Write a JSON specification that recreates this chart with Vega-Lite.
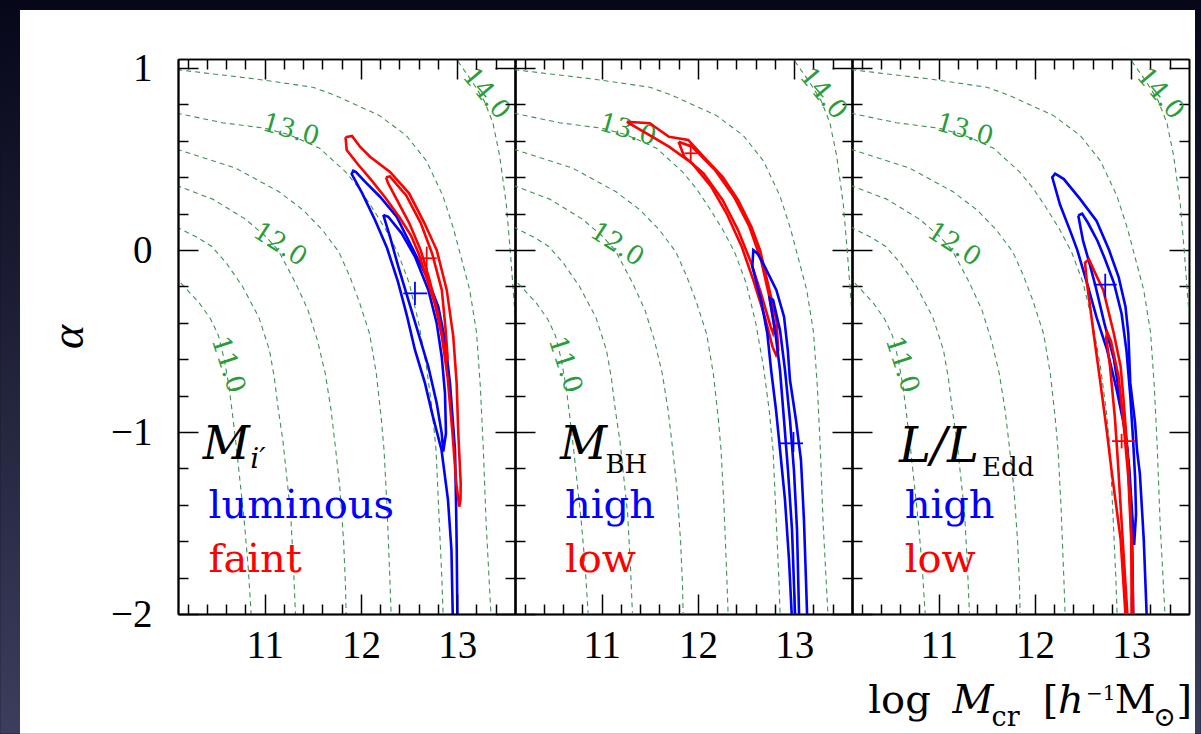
{
  "$schema": "https://vega.github.io/schema/vega-lite/v6.json",
  "background": "#0a0a1c",
  "padding": 0,
  "bounds": "flush",
  "spacing": 0,
  "datasets": {
    "curves": [
      {"lv":"11.0","i":0,"x":10.0,"a":-0.11},{"lv":"11.0","i":1,"x":10.145,"a":-0.19},{"lv":"11.0","i":2,"x":10.32,"a":-0.29},{"lv":"11.0","i":3,"x":10.44,"a":-0.38},{"lv":"11.0","i":4,"x":10.52,"a":-0.47},{"lv":"11.0","i":5,"x":10.58,"a":-0.6},{"lv":"11.0","i":6,"x":10.63,"a":-0.75},{"lv":"11.0","i":7,"x":10.67,"a":-0.92},{"lv":"11.0","i":8,"x":10.71,"a":-1.1},{"lv":"11.0","i":9,"x":10.75,"a":-1.3},{"lv":"11.0","i":10,"x":10.79,"a":-1.5},{"lv":"11.0","i":11,"x":10.83,"a":-1.75},{"lv":"11.0","i":12,"x":10.86,"a":-2.0},{"lv":"11.0","i":13,"x":10.87,"a":-2.1},
      {"lv":"11.5","i":0,"x":10.0,"a":0.15},{"lv":"11.5","i":1,"x":10.11,"a":0.12},{"lv":"11.5","i":2,"x":10.3,"a":0.07},{"lv":"11.5","i":3,"x":10.45,"a":0.02},{"lv":"11.5","i":4,"x":10.6,"a":-0.07},{"lv":"11.5","i":5,"x":10.77,"a":-0.2},{"lv":"11.5","i":6,"x":10.94,"a":-0.37},{"lv":"11.5","i":7,"x":11.05,"a":-0.55},{"lv":"11.5","i":8,"x":11.1,"a":-0.7},{"lv":"11.5","i":9,"x":11.14,"a":-0.87},{"lv":"11.5","i":10,"x":11.19,"a":-1.05},{"lv":"11.5","i":11,"x":11.23,"a":-1.25},{"lv":"11.5","i":12,"x":11.27,"a":-1.45},{"lv":"11.5","i":13,"x":11.3,"a":-1.75},{"lv":"11.5","i":14,"x":11.32,"a":-2.0},{"lv":"11.5","i":15,"x":11.33,"a":-2.1},
      {"lv":"12.0","i":0,"x":10.0,"a":0.38},{"lv":"12.0","i":1,"x":10.11,"a":0.35},{"lv":"12.0","i":2,"x":10.46,"a":0.28},{"lv":"12.0","i":3,"x":10.8,"a":0.17},{"lv":"12.0","i":4,"x":11.0,"a":0.08},{"lv":"12.0","i":5,"x":11.14,"a":0.0},{"lv":"12.0","i":6,"x":11.32,"a":-0.18},{"lv":"12.0","i":7,"x":11.45,"a":-0.33},{"lv":"12.0","i":8,"x":11.55,"a":-0.5},{"lv":"12.0","i":9,"x":11.63,"a":-0.68},{"lv":"12.0","i":10,"x":11.69,"a":-0.88},{"lv":"12.0","i":11,"x":11.73,"a":-1.06},{"lv":"12.0","i":12,"x":11.78,"a":-1.3},{"lv":"12.0","i":13,"x":11.82,"a":-1.6},{"lv":"12.0","i":14,"x":11.84,"a":-1.85},{"lv":"12.0","i":15,"x":11.85,"a":-2.1},
      {"lv":"12.5","i":0,"x":10.0,"a":0.57},{"lv":"12.5","i":1,"x":10.11,"a":0.55},{"lv":"12.5","i":2,"x":10.7,"a":0.45},{"lv":"12.5","i":3,"x":11.15,"a":0.32},{"lv":"12.5","i":4,"x":11.4,"a":0.22},{"lv":"12.5","i":5,"x":11.6,"a":0.11},{"lv":"12.5","i":6,"x":11.77,"a":-0.01},{"lv":"12.5","i":7,"x":11.88,"a":-0.14},{"lv":"12.5","i":8,"x":11.98,"a":-0.28},{"lv":"12.5","i":9,"x":12.09,"a":-0.46},{"lv":"12.5","i":10,"x":12.16,"a":-0.68},{"lv":"12.5","i":11,"x":12.21,"a":-0.92},{"lv":"12.5","i":12,"x":12.24,"a":-1.1},{"lv":"12.5","i":13,"x":12.27,"a":-1.4},{"lv":"12.5","i":14,"x":12.3,"a":-1.8},{"lv":"12.5","i":15,"x":12.32,"a":-2.1},
      {"lv":"13.0","i":0,"x":10.0,"a":0.77},{"lv":"13.0","i":1,"x":10.11,"a":0.75},{"lv":"13.0","i":2,"x":10.56,"a":0.7},{"lv":"13.0","i":3,"x":11.0,"a":0.67},{"lv":"13.0","i":4,"x":11.25,"a":0.635},{"lv":"13.0","i":5,"x":11.57,"a":0.56},{"lv":"13.0","i":6,"x":11.84,"a":0.43},{"lv":"13.0","i":7,"x":11.98,"a":0.34},{"lv":"13.0","i":8,"x":12.12,"a":0.23},{"lv":"13.0","i":9,"x":12.26,"a":0.11},{"lv":"13.0","i":10,"x":12.38,"a":-0.01},{"lv":"13.0","i":11,"x":12.5,"a":-0.18},{"lv":"13.0","i":12,"x":12.6,"a":-0.4},{"lv":"13.0","i":13,"x":12.68,"a":-0.64},{"lv":"13.0","i":14,"x":12.74,"a":-0.88},{"lv":"13.0","i":15,"x":12.78,"a":-1.1},{"lv":"13.0","i":16,"x":12.81,"a":-1.45},{"lv":"13.0","i":17,"x":12.84,"a":-1.8},{"lv":"13.0","i":18,"x":12.86,"a":-2.1},
      {"lv":"13.5","i":0,"x":10.0,"a":1.0},{"lv":"13.5","i":1,"x":10.11,"a":0.99},{"lv":"13.5","i":2,"x":10.91,"a":0.94},{"lv":"13.5","i":3,"x":11.5,"a":0.895},{"lv":"13.5","i":4,"x":11.71,"a":0.855},{"lv":"13.5","i":5,"x":11.9,"a":0.81},{"lv":"13.5","i":6,"x":12.19,"a":0.74},{"lv":"13.5","i":7,"x":12.47,"a":0.63},{"lv":"13.5","i":8,"x":12.68,"a":0.49},{"lv":"13.5","i":9,"x":12.85,"a":0.3},{"lv":"13.5","i":10,"x":12.96,"a":0.12},{"lv":"13.5","i":11,"x":13.02,"a":0.0},{"lv":"13.5","i":12,"x":13.13,"a":-0.22},{"lv":"13.5","i":13,"x":13.2,"a":-0.45},{"lv":"13.5","i":14,"x":13.24,"a":-0.75},{"lv":"13.5","i":15,"x":13.27,"a":-1.08},{"lv":"13.5","i":16,"x":13.3,"a":-1.5},{"lv":"13.5","i":17,"x":13.34,"a":-1.9},{"lv":"13.5","i":18,"x":13.36,"a":-2.1},
      {"lv":"14.0","i":0,"x":12.9,"a":1.12},{"lv":"14.0","i":1,"x":12.99,"a":1.05},{"lv":"14.0","i":2,"x":13.15,"a":0.93},{"lv":"14.0","i":3,"x":13.28,"a":0.82},{"lv":"14.0","i":4,"x":13.37,"a":0.7},{"lv":"14.0","i":5,"x":13.44,"a":0.52},{"lv":"14.0","i":6,"x":13.51,"a":0.25},{"lv":"14.0","i":7,"x":13.55,"a":0.0},{"lv":"14.0","i":8,"x":13.6,"a":-0.35},{"lv":"14.0","i":9,"x":13.66,"a":-0.9}
    ],
    "clabels": [
      {"t":"11.0","x":10.62,"a":-0.63},
      {"t":"12.0","x":11.16,"a":0.03},
      {"t":"13.0","x":11.27,"a":0.66},
      {"t":"14.0","x":13.3,"a":0.86}
    ],
    "contours": [
      {"p":1,"c":"b1","g":"blue","i":0,"x":12.956,"a":-2.143},{"p":1,"c":"b1","g":"blue","i":1,"x":12.953,"a":-1.994},{"p":1,"c":"b1","g":"blue","i":2,"x":12.94,"a":-1.648},{"p":1,"c":"b1","g":"blue","i":3,"x":12.904,"a":-1.373},{"p":1,"c":"b1","g":"blue","i":4,"x":12.837,"a":-1.099},{"p":1,"c":"b1","g":"blue","i":5,"x":12.748,"a":-0.917},{"p":1,"c":"b1","g":"blue","i":6,"x":12.665,"a":-0.731},{"p":1,"c":"b1","g":"blue","i":7,"x":12.561,"a":-0.549},{"p":1,"c":"b1","g":"blue","i":8,"x":12.478,"a":-0.362},{"p":1,"c":"b1","g":"blue","i":9,"x":12.385,"a":-0.175},{"p":1,"c":"b1","g":"blue","i":10,"x":12.271,"a":0.011},{"p":1,"c":"b1","g":"blue","i":11,"x":12.146,"a":0.165},{"p":1,"c":"b1","g":"blue","i":12,"x":12.011,"a":0.314},{"p":1,"c":"b1","g":"blue","i":13,"x":11.904,"a":0.418},{"p":1,"c":"b1","g":"blue","i":14,"x":11.92,"a":0.436},{"p":1,"c":"b1","g":"blue","i":15,"x":11.949,"a":0.429},{"p":1,"c":"b1","g":"blue","i":16,"x":12.042,"a":0.376},{"p":1,"c":"b1","g":"blue","i":17,"x":12.198,"a":0.293},{"p":1,"c":"b1","g":"blue","i":18,"x":12.371,"a":0.183},{"p":1,"c":"b1","g":"blue","i":19,"x":12.527,"a":0.018},{"p":1,"c":"b1","g":"blue","i":20,"x":12.683,"a":-0.146},{"p":1,"c":"b1","g":"blue","i":21,"x":12.803,"a":-0.311},{"p":1,"c":"b1","g":"blue","i":22,"x":12.873,"a":-0.494},{"p":1,"c":"b1","g":"blue","i":23,"x":12.925,"a":-0.732},{"p":1,"c":"b1","g":"blue","i":24,"x":12.977,"a":-1.099},{"p":1,"c":"b1","g":"blue","i":25,"x":12.987,"a":-1.373},{"p":1,"c":"b1","g":"blue","i":26,"x":12.995,"a":-1.648},{"p":1,"c":"b1","g":"blue","i":27,"x":13.001,"a":-1.994},{"p":1,"c":"b1","g":"blue","i":28,"x":13.003,"a":-2.143},
      {"p":1,"c":"b2","g":"blue","i":0,"x":12.232,"a":0.193},{"p":1,"c":"b2","g":"blue","i":1,"x":12.302,"a":0.073},{"p":1,"c":"b2","g":"blue","i":2,"x":12.388,"a":-0.091},{"p":1,"c":"b2","g":"blue","i":3,"x":12.492,"a":-0.274},{"p":1,"c":"b2","g":"blue","i":4,"x":12.596,"a":-0.457},{"p":1,"c":"b2","g":"blue","i":5,"x":12.7,"a":-0.641},{"p":1,"c":"b2","g":"blue","i":6,"x":12.787,"a":-0.842},{"p":1,"c":"b2","g":"blue","i":7,"x":12.839,"a":-1.007},{"p":1,"c":"b2","g":"blue","i":8,"x":12.855,"a":-1.108},{"p":1,"c":"b2","g":"blue","i":9,"x":12.883,"a":-1.007},{"p":1,"c":"b2","g":"blue","i":10,"x":12.873,"a":-0.787},{"p":1,"c":"b2","g":"blue","i":11,"x":12.839,"a":-0.586},{"p":1,"c":"b2","g":"blue","i":12,"x":12.787,"a":-0.402},{"p":1,"c":"b2","g":"blue","i":13,"x":12.7,"a":-0.219},{"p":1,"c":"b2","g":"blue","i":14,"x":12.561,"a":-0.036},{"p":1,"c":"b2","g":"blue","i":15,"x":12.423,"a":0.092},{"p":1,"c":"b2","g":"blue","i":16,"x":12.284,"a":0.183},{"p":1,"c":"b2","g":"blue","i":17,"x":12.232,"a":0.193},
      {"p":1,"c":"r1","g":"red","i":0,"x":11.84,"a":0.62},{"p":1,"c":"r1","g":"red","i":1,"x":11.907,"a":0.627},{"p":1,"c":"r1","g":"red","i":2,"x":11.99,"a":0.568},{"p":1,"c":"r1","g":"red","i":3,"x":12.094,"a":0.513},{"p":1,"c":"r1","g":"red","i":4,"x":12.302,"a":0.429},{"p":1,"c":"r1","g":"red","i":5,"x":12.5,"a":0.312},{"p":1,"c":"r1","g":"red","i":6,"x":12.66,"a":0.147},{"p":1,"c":"r1","g":"red","i":7,"x":12.787,"a":0.0},{"p":1,"c":"r1","g":"red","i":8,"x":12.891,"a":-0.219},{"p":1,"c":"r1","g":"red","i":9,"x":12.959,"a":-0.476},{"p":1,"c":"r1","g":"red","i":10,"x":12.994,"a":-0.732},{"p":1,"c":"r1","g":"red","i":11,"x":13.011,"a":-1.007},{"p":1,"c":"r1","g":"red","i":12,"x":13.036,"a":-1.282},{"p":1,"c":"r1","g":"red","i":13,"x":13.034,"a":-1.373},{"p":1,"c":"r1","g":"red","i":14,"x":13.021,"a":-1.41},{"p":1,"c":"r1","g":"red","i":15,"x":12.99,"a":-1.28},{"p":1,"c":"r1","g":"red","i":16,"x":12.95,"a":-1.0},{"p":1,"c":"r1","g":"red","i":17,"x":12.9,"a":-0.7},{"p":1,"c":"r1","g":"red","i":18,"x":12.84,"a":-0.47},{"p":1,"c":"r1","g":"red","i":19,"x":12.77,"a":-0.3},{"p":1,"c":"r1","g":"red","i":20,"x":12.68,"a":-0.15},{"p":1,"c":"r1","g":"red","i":21,"x":12.6,"a":-0.02},{"p":1,"c":"r1","g":"red","i":22,"x":12.52,"a":0.08},{"p":1,"c":"r1","g":"red","i":23,"x":12.4,"a":0.18},{"p":1,"c":"r1","g":"red","i":24,"x":12.25,"a":0.29},{"p":1,"c":"r1","g":"red","i":25,"x":12.1,"a":0.39},{"p":1,"c":"r1","g":"red","i":26,"x":11.97,"a":0.47},{"p":1,"c":"r1","g":"red","i":27,"x":11.852,"a":0.55},{"p":1,"c":"r1","g":"red","i":28,"x":11.84,"a":0.62},
      {"p":1,"c":"r2","g":"red","i":0,"x":12.26,"a":0.4},{"p":1,"c":"r2","g":"red","i":1,"x":12.3,"a":0.405},{"p":1,"c":"r2","g":"red","i":2,"x":12.47,"a":0.3},{"p":1,"c":"r2","g":"red","i":3,"x":12.62,"a":0.15},{"p":1,"c":"r2","g":"red","i":4,"x":12.74,"a":-0.02},{"p":1,"c":"r2","g":"red","i":5,"x":12.84,"a":-0.22},{"p":1,"c":"r2","g":"red","i":6,"x":12.88,"a":-0.44},{"p":1,"c":"r2","g":"red","i":7,"x":12.9,"a":-0.59},{"p":1,"c":"r2","g":"red","i":8,"x":12.895,"a":-0.61},{"p":1,"c":"r2","g":"red","i":9,"x":12.87,"a":-0.55},{"p":1,"c":"r2","g":"red","i":10,"x":12.8,"a":-0.35},{"p":1,"c":"r2","g":"red","i":11,"x":12.71,"a":-0.16},{"p":1,"c":"r2","g":"red","i":12,"x":12.62,"a":0.0},{"p":1,"c":"r2","g":"red","i":13,"x":12.5,"a":0.15},{"p":1,"c":"r2","g":"red","i":14,"x":12.36,"a":0.29},{"p":1,"c":"r2","g":"red","i":15,"x":12.28,"a":0.37},{"p":1,"c":"r2","g":"red","i":16,"x":12.26,"a":0.4},
      {"p":2,"c":"r1","g":"red","i":0,"x":11.261,"a":0.705},{"p":2,"c":"r1","g":"red","i":1,"x":11.5,"a":0.697},{"p":2,"c":"r1","g":"red","i":2,"x":11.699,"a":0.623},{"p":2,"c":"r1","g":"red","i":3,"x":11.899,"a":0.605},{"p":2,"c":"r1","g":"red","i":4,"x":12.058,"a":0.513},{"p":2,"c":"r1","g":"red","i":5,"x":12.256,"a":0.403},{"p":2,"c":"r1","g":"red","i":6,"x":12.416,"a":0.275},{"p":2,"c":"r1","g":"red","i":7,"x":12.555,"a":0.128},{"p":2,"c":"r1","g":"red","i":8,"x":12.645,"a":0.0},{"p":2,"c":"r1","g":"red","i":9,"x":12.734,"a":-0.201},{"p":2,"c":"r1","g":"red","i":10,"x":12.814,"a":-0.384},{"p":2,"c":"r1","g":"red","i":11,"x":12.834,"a":-0.549},{"p":2,"c":"r1","g":"red","i":12,"x":12.811,"a":-0.577},{"p":2,"c":"r1","g":"red","i":13,"x":12.774,"a":-0.531},{"p":2,"c":"r1","g":"red","i":14,"x":12.694,"a":-0.366},{"p":2,"c":"r1","g":"red","i":15,"x":12.575,"a":-0.165},{"p":2,"c":"r1","g":"red","i":16,"x":12.455,"a":0.018},{"p":2,"c":"r1","g":"red","i":17,"x":12.297,"a":0.202},{"p":2,"c":"r1","g":"red","i":18,"x":12.138,"a":0.348},{"p":2,"c":"r1","g":"red","i":19,"x":11.938,"a":0.477},{"p":2,"c":"r1","g":"red","i":20,"x":11.699,"a":0.568},{"p":2,"c":"r1","g":"red","i":21,"x":11.461,"a":0.642},{"p":2,"c":"r1","g":"red","i":22,"x":11.261,"a":0.705},
      {"p":2,"c":"r2","g":"red","i":0,"x":11.799,"a":0.595},{"p":2,"c":"r2","g":"red","i":1,"x":11.938,"a":0.568},{"p":2,"c":"r2","g":"red","i":2,"x":12.177,"a":0.44},{"p":2,"c":"r2","g":"red","i":3,"x":12.374,"a":0.293},{"p":2,"c":"r2","g":"red","i":4,"x":12.535,"a":0.128},{"p":2,"c":"r2","g":"red","i":5,"x":12.655,"a":-0.055},{"p":2,"c":"r2","g":"red","i":6,"x":12.734,"a":-0.238},{"p":2,"c":"r2","g":"red","i":7,"x":12.794,"a":-0.421},{"p":2,"c":"r2","g":"red","i":8,"x":12.78,"a":-0.456},{"p":2,"c":"r2","g":"red","i":9,"x":12.755,"a":-0.421},{"p":2,"c":"r2","g":"red","i":10,"x":12.655,"a":-0.238},{"p":2,"c":"r2","g":"red","i":11,"x":12.555,"a":-0.073},{"p":2,"c":"r2","g":"red","i":12,"x":12.416,"a":0.11},{"p":2,"c":"r2","g":"red","i":13,"x":12.256,"a":0.275},{"p":2,"c":"r2","g":"red","i":14,"x":12.058,"a":0.422},{"p":2,"c":"r2","g":"red","i":15,"x":11.858,"a":0.513},{"p":2,"c":"r2","g":"red","i":16,"x":11.799,"a":0.595},
      {"p":2,"c":"b1","g":"blue","i":0,"x":12.977,"a":-2.143},{"p":2,"c":"b1","g":"blue","i":1,"x":12.973,"a":-1.994},{"p":2,"c":"b1","g":"blue","i":2,"x":12.946,"a":-1.703},{"p":2,"c":"b1","g":"blue","i":3,"x":12.904,"a":-1.373},{"p":2,"c":"b1","g":"blue","i":4,"x":12.853,"a":-1.099},{"p":2,"c":"b1","g":"blue","i":5,"x":12.811,"a":-0.879},{"p":2,"c":"b1","g":"blue","i":6,"x":12.76,"a":-0.659},{"p":2,"c":"b1","g":"blue","i":7,"x":12.72,"a":-0.457},{"p":2,"c":"b1","g":"blue","i":8,"x":12.655,"a":-0.274},{"p":2,"c":"b1","g":"blue","i":9,"x":12.565,"a":-0.091},{"p":2,"c":"b1","g":"blue","i":10,"x":12.575,"a":0.0},{"p":2,"c":"b1","g":"blue","i":11,"x":12.62,"a":-0.02},{"p":2,"c":"b1","g":"blue","i":12,"x":12.694,"a":-0.091},{"p":2,"c":"b1","g":"blue","i":13,"x":12.814,"a":-0.219},{"p":2,"c":"b1","g":"blue","i":14,"x":12.894,"a":-0.366},{"p":2,"c":"b1","g":"blue","i":15,"x":12.933,"a":-0.549},{"p":2,"c":"b1","g":"blue","i":16,"x":12.956,"a":-0.714},{"p":2,"c":"b1","g":"blue","i":17,"x":13.018,"a":-0.934},{"p":2,"c":"b1","g":"blue","i":18,"x":13.07,"a":-1.154},{"p":2,"c":"b1","g":"blue","i":19,"x":13.101,"a":-1.483},{"p":2,"c":"b1","g":"blue","i":20,"x":13.122,"a":-1.813},{"p":2,"c":"b1","g":"blue","i":21,"x":13.133,"a":-1.994},{"p":2,"c":"b1","g":"blue","i":22,"x":13.138,"a":-2.143},
      {"p":2,"c":"b2","g":"blue","i":0,"x":13.008,"a":-2.143},{"p":2,"c":"b2","g":"blue","i":1,"x":13.008,"a":-1.994},{"p":2,"c":"b2","g":"blue","i":2,"x":12.977,"a":-1.538},{"p":2,"c":"b2","g":"blue","i":3,"x":12.935,"a":-1.209},{"p":2,"c":"b2","g":"blue","i":4,"x":12.894,"a":-0.934},{"p":2,"c":"b2","g":"blue","i":5,"x":12.852,"a":-0.659},{"p":2,"c":"b2","g":"blue","i":6,"x":12.8,"a":-0.439},{"p":2,"c":"b2","g":"blue","i":7,"x":12.745,"a":-0.263},{"p":2,"c":"b2","g":"blue","i":8,"x":12.78,"a":-0.274},{"p":2,"c":"b2","g":"blue","i":9,"x":12.852,"a":-0.439},{"p":2,"c":"b2","g":"blue","i":10,"x":12.904,"a":-0.659},{"p":2,"c":"b2","g":"blue","i":11,"x":12.956,"a":-0.934},{"p":2,"c":"b2","g":"blue","i":12,"x":12.997,"a":-1.209},{"p":2,"c":"b2","g":"blue","i":13,"x":13.029,"a":-1.538},{"p":2,"c":"b2","g":"blue","i":14,"x":13.05,"a":-1.994},{"p":2,"c":"b2","g":"blue","i":15,"x":13.05,"a":-2.143},
      {"p":3,"c":"b1","g":"blue","i":0,"x":13.02,"a":-2.15},{"p":3,"c":"b1","g":"blue","i":1,"x":13.02,"a":-2.0},{"p":3,"c":"b1","g":"blue","i":2,"x":13.01,"a":-1.59},{"p":3,"c":"b1","g":"blue","i":3,"x":12.98,"a":-1.3},{"p":3,"c":"b1","g":"blue","i":4,"x":12.96,"a":-1.1},{"p":3,"c":"b1","g":"blue","i":5,"x":12.92,"a":-0.95},{"p":3,"c":"b1","g":"blue","i":6,"x":12.85,"a":-0.77},{"p":3,"c":"b1","g":"blue","i":7,"x":12.75,"a":-0.55},{"p":3,"c":"b1","g":"blue","i":8,"x":12.64,"a":-0.37},{"p":3,"c":"b1","g":"blue","i":9,"x":12.54,"a":-0.18},{"p":3,"c":"b1","g":"blue","i":10,"x":12.44,"a":0.0},{"p":3,"c":"b1","g":"blue","i":11,"x":12.37,"a":0.1},{"p":3,"c":"b1","g":"blue","i":12,"x":12.26,"a":0.25},{"p":3,"c":"b1","g":"blue","i":13,"x":12.18,"a":0.4},{"p":3,"c":"b1","g":"blue","i":14,"x":12.21,"a":0.42},{"p":3,"c":"b1","g":"blue","i":15,"x":12.3,"a":0.39},{"p":3,"c":"b1","g":"blue","i":16,"x":12.47,"a":0.28},{"p":3,"c":"b1","g":"blue","i":17,"x":12.64,"a":0.16},{"p":3,"c":"b1","g":"blue","i":18,"x":12.77,"a":0.0},{"p":3,"c":"b1","g":"blue","i":19,"x":12.87,"a":-0.15},{"p":3,"c":"b1","g":"blue","i":20,"x":12.94,"a":-0.31},{"p":3,"c":"b1","g":"blue","i":21,"x":12.97,"a":-0.46},{"p":3,"c":"b1","g":"blue","i":22,"x":12.99,"a":-0.73},{"p":3,"c":"b1","g":"blue","i":23,"x":13.04,"a":-0.95},{"p":3,"c":"b1","g":"blue","i":24,"x":13.06,"a":-1.1},{"p":3,"c":"b1","g":"blue","i":25,"x":13.09,"a":-1.23},{"p":3,"c":"b1","g":"blue","i":26,"x":13.13,"a":-1.59},{"p":3,"c":"b1","g":"blue","i":27,"x":13.16,"a":-2.0},{"p":3,"c":"b1","g":"blue","i":28,"x":13.165,"a":-2.15},
      {"p":3,"c":"b2","g":"blue","i":0,"x":12.45,"a":0.19},{"p":3,"c":"b2","g":"blue","i":1,"x":12.5,"a":0.05},{"p":3,"c":"b2","g":"blue","i":2,"x":12.56,"a":-0.06},{"p":3,"c":"b2","g":"blue","i":3,"x":12.63,"a":-0.2},{"p":3,"c":"b2","g":"blue","i":4,"x":12.72,"a":-0.4},{"p":3,"c":"b2","g":"blue","i":5,"x":12.82,"a":-0.6},{"p":3,"c":"b2","g":"blue","i":6,"x":12.88,"a":-0.8},{"p":3,"c":"b2","g":"blue","i":7,"x":12.94,"a":-1.0},{"p":3,"c":"b2","g":"blue","i":8,"x":12.98,"a":-1.2},{"p":3,"c":"b2","g":"blue","i":9,"x":13.01,"a":-1.45},{"p":3,"c":"b2","g":"blue","i":10,"x":13.03,"a":-1.62},{"p":3,"c":"b2","g":"blue","i":11,"x":13.05,"a":-1.45},{"p":3,"c":"b2","g":"blue","i":12,"x":13.04,"a":-1.25},{"p":3,"c":"b2","g":"blue","i":13,"x":13.02,"a":-1.05},{"p":3,"c":"b2","g":"blue","i":14,"x":12.99,"a":-0.8},{"p":3,"c":"b2","g":"blue","i":15,"x":12.95,"a":-0.55},{"p":3,"c":"b2","g":"blue","i":16,"x":12.9,"a":-0.35},{"p":3,"c":"b2","g":"blue","i":17,"x":12.82,"a":-0.18},{"p":3,"c":"b2","g":"blue","i":18,"x":12.72,"a":-0.04},{"p":3,"c":"b2","g":"blue","i":19,"x":12.65,"a":0.05},{"p":3,"c":"b2","g":"blue","i":20,"x":12.55,"a":0.15},{"p":3,"c":"b2","g":"blue","i":21,"x":12.49,"a":0.2},{"p":3,"c":"b2","g":"blue","i":22,"x":12.45,"a":0.19},
      {"p":3,"c":"r1","g":"red","i":0,"x":12.945,"a":-2.15},{"p":3,"c":"r1","g":"red","i":1,"x":12.94,"a":-2.0},{"p":3,"c":"r1","g":"red","i":2,"x":12.89,"a":-1.59},{"p":3,"c":"r1","g":"red","i":3,"x":12.8,"a":-1.23},{"p":3,"c":"r1","g":"red","i":4,"x":12.75,"a":-1.01},{"p":3,"c":"r1","g":"red","i":5,"x":12.68,"a":-0.73},{"p":3,"c":"r1","g":"red","i":6,"x":12.61,"a":-0.46},{"p":3,"c":"r1","g":"red","i":7,"x":12.57,"a":-0.3},{"p":3,"c":"r1","g":"red","i":8,"x":12.54,"a":-0.18},{"p":3,"c":"r1","g":"red","i":9,"x":12.52,"a":-0.07},{"p":3,"c":"r1","g":"red","i":10,"x":12.56,"a":-0.05},{"p":3,"c":"r1","g":"red","i":11,"x":12.62,"a":-0.12},{"p":3,"c":"r1","g":"red","i":12,"x":12.71,"a":-0.22},{"p":3,"c":"r1","g":"red","i":13,"x":12.82,"a":-0.46},{"p":3,"c":"r1","g":"red","i":14,"x":12.89,"a":-0.64},{"p":3,"c":"r1","g":"red","i":15,"x":12.92,"a":-0.82},{"p":3,"c":"r1","g":"red","i":16,"x":12.96,"a":-1.1},{"p":3,"c":"r1","g":"red","i":17,"x":12.99,"a":-1.41},{"p":3,"c":"r1","g":"red","i":18,"x":13.01,"a":-1.7},{"p":3,"c":"r1","g":"red","i":19,"x":13.02,"a":-2.0},{"p":3,"c":"r1","g":"red","i":20,"x":13.025,"a":-2.15},
      {"p":3,"c":"r2","g":"red","i":0,"x":12.965,"a":-2.15},{"p":3,"c":"r2","g":"red","i":1,"x":12.96,"a":-2.0},{"p":3,"c":"r2","g":"red","i":2,"x":12.89,"a":-1.41},{"p":3,"c":"r2","g":"red","i":3,"x":12.86,"a":-1.15},{"p":3,"c":"r2","g":"red","i":4,"x":12.83,"a":-0.92},{"p":3,"c":"r2","g":"red","i":5,"x":12.78,"a":-0.64},{"p":3,"c":"r2","g":"red","i":6,"x":12.74,"a":-0.48},{"p":3,"c":"r2","g":"red","i":7,"x":12.75,"a":-0.45},{"p":3,"c":"r2","g":"red","i":8,"x":12.79,"a":-0.5},{"p":3,"c":"r2","g":"red","i":9,"x":12.87,"a":-0.7},{"p":3,"c":"r2","g":"red","i":10,"x":12.92,"a":-0.95},{"p":3,"c":"r2","g":"red","i":11,"x":12.97,"a":-1.25},{"p":3,"c":"r2","g":"red","i":12,"x":13.0,"a":-1.59},{"p":3,"c":"r2","g":"red","i":13,"x":13.005,"a":-2.0},{"p":3,"c":"r2","g":"red","i":14,"x":13.005,"a":-2.15}
    ],
    "errs": [
      {"p":1,"g":"red","x":12.683,"xlo":12.596,"xhi":12.787,"a":-0.045,"alo":-0.11,"ahi":0.019},
      {"p":1,"g":"blue","x":12.561,"xlo":12.44,"xhi":12.689,"a":-0.238,"alo":-0.302,"ahi":-0.174},
      {"p":2,"g":"red","x":11.925,"xlo":11.86,"xhi":11.99,"a":0.532,"alo":0.48,"ahi":0.585},
      {"p":2,"g":"blue","x":12.992,"xlo":12.852,"xhi":13.091,"a":-1.062,"alo":-1.11,"ahi":-1.0},
      {"p":3,"g":"blue","x":12.73,"xlo":12.61,"xhi":12.85,"a":-0.19,"alo":-0.26,"ahi":-0.13},
      {"p":3,"g":"red","x":12.9,"xlo":12.8,"xhi":13.04,"a":-1.05,"alo":-1.09,"ahi":-1.01}
    ],
    "notes": [
      {"p":1,"r":"sym","t":"M","x":10.358,"a":-1.15},
      {"p":1,"r":"subi","t":"i′","x":10.85,"a":-1.2},
      {"p":1,"r":"word","t":"luminous","x":10.418,"a":-1.47,"g":"blue"},
      {"p":1,"r":"word","t":"faint","x":10.418,"a":-1.768,"g":"red"},
      {"p":2,"r":"sym","t":"M","x":10.567,"a":-1.15},
      {"p":2,"r":"sub","t":"BH","x":11.04,"a":-1.227},
      {"p":2,"r":"word","t":"high","x":10.619,"a":-1.47,"g":"blue"},
      {"p":2,"r":"word","t":"low","x":10.619,"a":-1.768,"g":"red"},
      {"p":3,"r":"sym","t":"L/L","x":10.588,"a":-1.163},
      {"p":3,"r":"sub","t":"Edd","x":11.45,"a":-1.244},
      {"p":3,"r":"word","t":"high","x":10.647,"a":-1.47,"g":"blue"},
      {"p":3,"r":"word","t":"low","x":10.647,"a":-1.768,"g":"red"},
      {"p":3,"r":"xt","t":"log","x":10.269,"a":-2.544},
      {"p":3,"r":"xti","t":"M","x":11.145,"a":-2.544},
      {"p":3,"r":"xts","t":"cr","x":11.55,"a":-2.615},
      {"p":3,"r":"xt","t":"[","x":12.08,"a":-2.544},
      {"p":3,"r":"xti","t":"h","x":12.24,"a":-2.544},
      {"p":3,"r":"xtu","t":"−1","x":12.53,"a":-2.47},
      {"p":3,"r":"xt","t":"M","x":12.83,"a":-2.544},
      {"p":3,"r":"xts","t":"⊙","x":13.23,"a":-2.615},
      {"p":3,"r":"xt","t":"]","x":13.47,"a":-2.544}
    ]
  },
  "hconcat": [
    {
      "width": 337, "height": 555,
      "resolve": {"axis": {"x": "independent", "y": "independent"}},
      "layer": [
        {
          "data": {"values": [{}]},
          "mark": {"type": "rect", "fill": {"gradient": "linear", "x1": 0, "y1": 0, "x2": 0, "y2": 1, "stops": [{"offset": 0, "color": "#07071a"}, {"offset": 1, "color": "#3b3e5c"}]}},
          "encoding": {
            "x": {"datum": 8.25342, "type": "quantitative", "scale": {"domain": [10.1, 13.6], "nice": false, "zero": false}, "axis": null},
            "x2": {"datum": 20.72252},
            "y": {"datum": 1.37313, "type": "quantitative", "scale": {"domain": [-2, 1.05], "nice": false, "zero": false}, "axis": null},
            "y2": {"datum": -2.6583}
          }
        },
        {
          "data": {"values": [{}]},
          "mark": {"type": "rect", "fill": "#ffffff"},
          "encoding": {
            "x": {"datum": 8.45907, "type": "quantitative", "axis": null},
            "x2": {"datum": 20.66229},
            "y": {"datum": 1.31928, "type": "quantitative", "axis": null},
            "y2": {"datum": -2.6583}
          }
        },
        {
          "data": {"name": "curves"},
          "mark": {"type": "line", "clip": true, "strokeDash": [5, 4], "strokeWidth": 1.1, "color": "#3f9159"},
          "encoding": {
            "x": {"field": "x", "type": "quantitative", "axis": {"zindex": 2, "orient": "bottom", "values": [11, 12, 13], "ticks": false, "labelPadding": 12, "title": null}},
            "y": {"field": "a", "type": "quantitative", "axis": {"zindex": 2, "orient": "left", "values": [-2, -1, 0, 1], "ticks": false, "labelPadding": 26, "title": "α", "titleFont": "Liberation Serif", "titleFontStyle": "italic", "titleFontSize": 46, "titleFontWeight": "normal", "titleColor": "#000", "titlePadding": 18}},
            "detail": {"field": "lv"},
            "order": {"field": "i", "type": "quantitative"}
          }
        },
        {
          "data": {"name": "clabels"}, "transform": [{"filter": "datum.t === '13.0'"}],
          "mark": {"type": "text", "angle": 16, "font": "DejaVu Serif", "fontSize": 26, "color": "#2a9d3a"},
          "encoding": {
            "x": {"field": "x", "type": "quantitative", "axis": {"zindex": 2, "orient": "bottom", "values": [11, 12, 13], "tickSize": -20, "labels": false, "title": null}},
            "y": {"field": "a", "type": "quantitative", "axis": {"zindex": 2, "orient": "left", "values": [-2, -1, 0, 1], "tickSize": -20, "labels": false, "title": null}},
            "text": {"field": "t"}
          }
        },
        {
          "data": {"name": "clabels"}, "transform": [{"filter": "datum.t === '12.0'"}],
          "mark": {"type": "text", "angle": 33, "font": "DejaVu Serif", "fontSize": 26, "color": "#2a9d3a"},
          "encoding": {
            "x": {"field": "x", "type": "quantitative", "axis": {"zindex": 2, "orient": "bottom", "values": [10.2, 10.4, 10.6, 10.8, 11.2, 11.4, 11.6, 11.8, 12.2, 12.4, 12.6, 12.8, 13.2, 13.4], "tickSize": -10, "labels": false, "title": null}},
            "y": {"field": "a", "type": "quantitative", "axis": {"zindex": 2, "orient": "left", "values": [-1.8, -1.6, -1.4, -1.2, -0.8, -0.6, -0.4, -0.2, 0.2, 0.4, 0.6, 0.8], "tickSize": -10, "labels": false, "title": null}},
            "text": {"field": "t"}
          }
        },
        {
          "data": {"name": "clabels"}, "transform": [{"filter": "datum.t === '11.0'"}],
          "mark": {"type": "text", "angle": 72, "font": "DejaVu Serif", "fontSize": 26, "color": "#2a9d3a"},
          "encoding": {
            "x": {"field": "x", "type": "quantitative", "axis": {"zindex": 2, "orient": "top", "values": [11, 12, 13], "tickSize": -20, "labels": false, "title": null}},
            "y": {"field": "a", "type": "quantitative", "axis": {"zindex": 2, "orient": "right", "values": [-2, -1, 0, 1], "tickSize": -20, "labels": false, "title": null}},
            "text": {"field": "t"}
          }
        },
        {
          "data": {"name": "clabels"}, "transform": [{"filter": "datum.t === '14.0'"}],
          "mark": {"type": "text", "angle": 50, "font": "DejaVu Serif", "fontSize": 26, "color": "#2a9d3a"},
          "encoding": {
            "x": {"field": "x", "type": "quantitative", "axis": {"zindex": 2, "orient": "top", "values": [10.2, 10.4, 10.6, 10.8, 11.2, 11.4, 11.6, 11.8, 12.2, 12.4, 12.6, 12.8, 13.2, 13.4], "tickSize": -10, "labels": false, "title": null}},
            "y": {"field": "a", "type": "quantitative", "axis": {"zindex": 2, "orient": "right", "values": [-1.8, -1.6, -1.4, -1.2, -0.8, -0.6, -0.4, -0.2, 0.2, 0.4, 0.6, 0.8], "tickSize": -10, "labels": false, "title": null}},
            "text": {"field": "t"}
          }
        },
        {
          "data": {"name": "contours"}, "transform": [{"filter": "datum.p === 1"}],
          "mark": {"type": "line", "clip": true, "strokeWidth": 2.6},
          "encoding": {
            "x": {"field": "x", "type": "quantitative", "axis": null},
            "y": {"field": "a", "type": "quantitative", "axis": null},
            "color": {"field": "g", "type": "nominal", "scale": {"domain": ["blue", "red"], "range": ["#0000ff", "#ff0000"]}, "legend": null},
            "detail": {"field": "c"},
            "order": {"field": "i", "type": "quantitative"}
          }
        },
        {
          "data": {"name": "errs"}, "transform": [{"filter": "datum.p === 1"}],
          "mark": {"type": "rule", "strokeWidth": 1.8},
          "encoding": {
            "x": {"field": "xlo", "type": "quantitative", "axis": null}, "x2": {"field": "xhi"},
            "y": {"field": "a", "type": "quantitative", "axis": null},
            "color": {"field": "g", "type": "nominal", "legend": null}
          }
        },
        {
          "data": {"name": "errs"}, "transform": [{"filter": "datum.p === 1"}],
          "mark": {"type": "rule", "strokeWidth": 1.8},
          "encoding": {
            "x": {"field": "x", "type": "quantitative", "axis": null},
            "y": {"field": "alo", "type": "quantitative", "axis": null}, "y2": {"field": "ahi"},
            "color": {"field": "g", "type": "nominal", "legend": null}
          }
        },
        {
          "data": {"name": "notes"}, "transform": [{"filter": "datum.p === 1 && datum.r === 'sym'"}],
          "mark": {"type": "text", "align": "left", "baseline": "alphabetic", "font": "DejaVu Serif", "fontStyle": "italic", "fontSize": 46, "color": "#000"},
          "encoding": {"x": {"field": "x", "type": "quantitative", "axis": null}, "y": {"field": "a", "type": "quantitative", "axis": null}, "text": {"field": "t"}}
        },
        {
          "data": {"name": "notes"}, "transform": [{"filter": "datum.p === 1 && datum.r === 'subi'"}],
          "mark": {"type": "text", "align": "left", "baseline": "alphabetic", "font": "DejaVu Serif", "fontStyle": "italic", "fontSize": 28, "color": "#000"},
          "encoding": {"x": {"field": "x", "type": "quantitative", "axis": null}, "y": {"field": "a", "type": "quantitative", "axis": null}, "text": {"field": "t"}}
        },
        {
          "data": {"name": "notes"}, "transform": [{"filter": "datum.p === 1 && datum.r === 'word'"}],
          "mark": {"type": "text", "align": "left", "baseline": "alphabetic", "font": "DejaVu Serif", "fontSize": 40},
          "encoding": {"x": {"field": "x", "type": "quantitative", "axis": null}, "y": {"field": "a", "type": "quantitative", "axis": null}, "text": {"field": "t"}, "color": {"field": "g", "type": "nominal", "legend": null}}
        }
      ]
    },
    {
      "width": 337, "height": 555,
      "resolve": {"axis": {"x": "independent", "y": "independent"}},
      "layer": [
        {
          "data": {"name": "curves"},
          "mark": {"type": "line", "clip": true, "strokeDash": [5, 4], "strokeWidth": 1.1, "color": "#3f9159"},
          "encoding": {
            "x": {"field": "x", "type": "quantitative", "scale": {"domain": [10.1, 13.6], "nice": false, "zero": false}, "axis": {"orient": "bottom", "values": [11, 12, 13], "ticks": false, "labelPadding": 12, "title": null}},
            "y": {"field": "a", "type": "quantitative", "scale": {"domain": [-2, 1.05], "nice": false, "zero": false}, "axis": {"orient": "left", "labels": false, "ticks": false, "title": null}},
            "detail": {"field": "lv"},
            "order": {"field": "i", "type": "quantitative"}
          }
        },
        {
          "data": {"name": "clabels"}, "transform": [{"filter": "datum.t === '13.0'"}],
          "mark": {"type": "text", "angle": 16, "font": "DejaVu Serif", "fontSize": 26, "color": "#2a9d3a"},
          "encoding": {
            "x": {"field": "x", "type": "quantitative", "axis": {"orient": "bottom", "values": [11, 12, 13], "tickSize": -20, "labels": false, "title": null}},
            "y": {"field": "a", "type": "quantitative", "axis": {"orient": "left", "values": [-2, -1, 0, 1], "tickSize": -20, "labels": false, "title": null}},
            "text": {"field": "t"}
          }
        },
        {
          "data": {"name": "clabels"}, "transform": [{"filter": "datum.t === '12.0'"}],
          "mark": {"type": "text", "angle": 33, "font": "DejaVu Serif", "fontSize": 26, "color": "#2a9d3a"},
          "encoding": {
            "x": {"field": "x", "type": "quantitative", "axis": {"orient": "bottom", "values": [10.2, 10.4, 10.6, 10.8, 11.2, 11.4, 11.6, 11.8, 12.2, 12.4, 12.6, 12.8, 13.2, 13.4], "tickSize": -10, "labels": false, "title": null}},
            "y": {"field": "a", "type": "quantitative", "axis": {"orient": "left", "values": [-1.8, -1.6, -1.4, -1.2, -0.8, -0.6, -0.4, -0.2, 0.2, 0.4, 0.6, 0.8], "tickSize": -10, "labels": false, "title": null}},
            "text": {"field": "t"}
          }
        },
        {
          "data": {"name": "clabels"}, "transform": [{"filter": "datum.t === '11.0'"}],
          "mark": {"type": "text", "angle": 72, "font": "DejaVu Serif", "fontSize": 26, "color": "#2a9d3a"},
          "encoding": {
            "x": {"field": "x", "type": "quantitative", "axis": {"orient": "top", "values": [11, 12, 13], "tickSize": -20, "labels": false, "title": null}},
            "y": {"field": "a", "type": "quantitative", "axis": {"orient": "right", "values": [-2, -1, 0, 1], "tickSize": -20, "labels": false, "title": null}},
            "text": {"field": "t"}
          }
        },
        {
          "data": {"name": "clabels"}, "transform": [{"filter": "datum.t === '14.0'"}],
          "mark": {"type": "text", "angle": 50, "font": "DejaVu Serif", "fontSize": 26, "color": "#2a9d3a"},
          "encoding": {
            "x": {"field": "x", "type": "quantitative", "axis": {"orient": "top", "values": [10.2, 10.4, 10.6, 10.8, 11.2, 11.4, 11.6, 11.8, 12.2, 12.4, 12.6, 12.8, 13.2, 13.4], "tickSize": -10, "labels": false, "title": null}},
            "y": {"field": "a", "type": "quantitative", "axis": {"orient": "right", "values": [-1.8, -1.6, -1.4, -1.2, -0.8, -0.6, -0.4, -0.2, 0.2, 0.4, 0.6, 0.8], "tickSize": -10, "labels": false, "title": null}},
            "text": {"field": "t"}
          }
        },
        {
          "data": {"name": "contours"}, "transform": [{"filter": "datum.p === 2"}],
          "mark": {"type": "line", "clip": true, "strokeWidth": 2.6},
          "encoding": {
            "x": {"field": "x", "type": "quantitative", "axis": null},
            "y": {"field": "a", "type": "quantitative", "axis": null},
            "color": {"field": "g", "type": "nominal", "scale": {"domain": ["blue", "red"], "range": ["#0000ff", "#ff0000"]}, "legend": null},
            "detail": {"field": "c"},
            "order": {"field": "i", "type": "quantitative"}
          }
        },
        {
          "data": {"name": "errs"}, "transform": [{"filter": "datum.p === 2"}],
          "mark": {"type": "rule", "strokeWidth": 1.8},
          "encoding": {
            "x": {"field": "xlo", "type": "quantitative", "axis": null}, "x2": {"field": "xhi"},
            "y": {"field": "a", "type": "quantitative", "axis": null},
            "color": {"field": "g", "type": "nominal", "legend": null}
          }
        },
        {
          "data": {"name": "errs"}, "transform": [{"filter": "datum.p === 2"}],
          "mark": {"type": "rule", "strokeWidth": 1.8},
          "encoding": {
            "x": {"field": "x", "type": "quantitative", "axis": null},
            "y": {"field": "alo", "type": "quantitative", "axis": null}, "y2": {"field": "ahi"},
            "color": {"field": "g", "type": "nominal", "legend": null}
          }
        },
        {
          "data": {"name": "notes"}, "transform": [{"filter": "datum.p === 2 && datum.r === 'sym'"}],
          "mark": {"type": "text", "align": "left", "baseline": "alphabetic", "font": "DejaVu Serif", "fontStyle": "italic", "fontSize": 46, "color": "#000"},
          "encoding": {"x": {"field": "x", "type": "quantitative", "axis": null}, "y": {"field": "a", "type": "quantitative", "axis": null}, "text": {"field": "t"}}
        },
        {
          "data": {"name": "notes"}, "transform": [{"filter": "datum.p === 2 && datum.r === 'sub'"}],
          "mark": {"type": "text", "align": "left", "baseline": "alphabetic", "font": "DejaVu Serif", "fontSize": 26, "color": "#000"},
          "encoding": {"x": {"field": "x", "type": "quantitative", "axis": null}, "y": {"field": "a", "type": "quantitative", "axis": null}, "text": {"field": "t"}}
        },
        {
          "data": {"name": "notes"}, "transform": [{"filter": "datum.p === 2 && datum.r === 'word'"}],
          "mark": {"type": "text", "align": "left", "baseline": "alphabetic", "font": "DejaVu Serif", "fontSize": 40},
          "encoding": {"x": {"field": "x", "type": "quantitative", "axis": null}, "y": {"field": "a", "type": "quantitative", "axis": null}, "text": {"field": "t"}, "color": {"field": "g", "type": "nominal", "legend": null}}
        }
      ]
    },
    {
      "width": 337, "height": 555,
      "resolve": {"axis": {"x": "independent", "y": "independent"}},
      "layer": [
        {
          "data": {"name": "curves"},
          "mark": {"type": "line", "clip": true, "strokeDash": [5, 4], "strokeWidth": 1.1, "color": "#3f9159"},
          "encoding": {
            "x": {"field": "x", "type": "quantitative", "scale": {"domain": [10.1, 13.6], "nice": false, "zero": false}, "axis": {"orient": "bottom", "values": [11, 12, 13], "ticks": false, "labelPadding": 12, "title": null}},
            "y": {"field": "a", "type": "quantitative", "scale": {"domain": [-2, 1.05], "nice": false, "zero": false}, "axis": {"orient": "left", "labels": false, "ticks": false, "title": null}},
            "detail": {"field": "lv"},
            "order": {"field": "i", "type": "quantitative"}
          }
        },
        {
          "data": {"name": "clabels"}, "transform": [{"filter": "datum.t === '13.0'"}],
          "mark": {"type": "text", "angle": 16, "font": "DejaVu Serif", "fontSize": 26, "color": "#2a9d3a"},
          "encoding": {
            "x": {"field": "x", "type": "quantitative", "axis": {"orient": "bottom", "values": [11, 12, 13], "tickSize": -20, "labels": false, "title": null}},
            "y": {"field": "a", "type": "quantitative", "axis": {"orient": "left", "values": [-2, -1, 0, 1], "tickSize": -20, "labels": false, "title": null}},
            "text": {"field": "t"}
          }
        },
        {
          "data": {"name": "clabels"}, "transform": [{"filter": "datum.t === '12.0'"}],
          "mark": {"type": "text", "angle": 33, "font": "DejaVu Serif", "fontSize": 26, "color": "#2a9d3a"},
          "encoding": {
            "x": {"field": "x", "type": "quantitative", "axis": {"orient": "bottom", "values": [10.2, 10.4, 10.6, 10.8, 11.2, 11.4, 11.6, 11.8, 12.2, 12.4, 12.6, 12.8, 13.2, 13.4], "tickSize": -10, "labels": false, "title": null}},
            "y": {"field": "a", "type": "quantitative", "axis": {"orient": "left", "values": [-1.8, -1.6, -1.4, -1.2, -0.8, -0.6, -0.4, -0.2, 0.2, 0.4, 0.6, 0.8], "tickSize": -10, "labels": false, "title": null}},
            "text": {"field": "t"}
          }
        },
        {
          "data": {"name": "clabels"}, "transform": [{"filter": "datum.t === '11.0'"}],
          "mark": {"type": "text", "angle": 72, "font": "DejaVu Serif", "fontSize": 26, "color": "#2a9d3a"},
          "encoding": {
            "x": {"field": "x", "type": "quantitative", "axis": {"orient": "top", "values": [11, 12, 13], "tickSize": -20, "labels": false, "title": null}},
            "y": {"field": "a", "type": "quantitative", "axis": {"orient": "right", "values": [-2, -1, 0, 1], "tickSize": -20, "labels": false, "title": null}},
            "text": {"field": "t"}
          }
        },
        {
          "data": {"name": "clabels"}, "transform": [{"filter": "datum.t === '14.0'"}],
          "mark": {"type": "text", "angle": 50, "font": "DejaVu Serif", "fontSize": 26, "color": "#2a9d3a"},
          "encoding": {
            "x": {"field": "x", "type": "quantitative", "axis": {"orient": "top", "values": [10.2, 10.4, 10.6, 10.8, 11.2, 11.4, 11.6, 11.8, 12.2, 12.4, 12.6, 12.8, 13.2, 13.4], "tickSize": -10, "labels": false, "title": null}},
            "y": {"field": "a", "type": "quantitative", "axis": {"orient": "right", "values": [-1.8, -1.6, -1.4, -1.2, -0.8, -0.6, -0.4, -0.2, 0.2, 0.4, 0.6, 0.8], "tickSize": -10, "labels": false, "title": null}},
            "text": {"field": "t"}
          }
        },
        {
          "data": {"name": "contours"}, "transform": [{"filter": "datum.p === 3"}],
          "mark": {"type": "line", "clip": true, "strokeWidth": 2.6},
          "encoding": {
            "x": {"field": "x", "type": "quantitative", "axis": null},
            "y": {"field": "a", "type": "quantitative", "axis": null},
            "color": {"field": "g", "type": "nominal", "scale": {"domain": ["blue", "red"], "range": ["#0000ff", "#ff0000"]}, "legend": null},
            "detail": {"field": "c"},
            "order": {"field": "i", "type": "quantitative"}
          }
        },
        {
          "data": {"name": "errs"}, "transform": [{"filter": "datum.p === 3"}],
          "mark": {"type": "rule", "strokeWidth": 1.8},
          "encoding": {
            "x": {"field": "xlo", "type": "quantitative", "axis": null}, "x2": {"field": "xhi"},
            "y": {"field": "a", "type": "quantitative", "axis": null},
            "color": {"field": "g", "type": "nominal", "legend": null}
          }
        },
        {
          "data": {"name": "errs"}, "transform": [{"filter": "datum.p === 3"}],
          "mark": {"type": "rule", "strokeWidth": 1.8},
          "encoding": {
            "x": {"field": "x", "type": "quantitative", "axis": null},
            "y": {"field": "alo", "type": "quantitative", "axis": null}, "y2": {"field": "ahi"},
            "color": {"field": "g", "type": "nominal", "legend": null}
          }
        },
        {
          "data": {"name": "notes"}, "transform": [{"filter": "datum.p === 3 && datum.r === 'sym'"}],
          "mark": {"type": "text", "align": "left", "baseline": "alphabetic", "font": "DejaVu Serif", "fontStyle": "italic", "fontSize": 48, "color": "#000"},
          "encoding": {"x": {"field": "x", "type": "quantitative", "axis": null}, "y": {"field": "a", "type": "quantitative", "axis": null}, "text": {"field": "t"}}
        },
        {
          "data": {"name": "notes"}, "transform": [{"filter": "datum.p === 3 && datum.r === 'sub'"}],
          "mark": {"type": "text", "align": "left", "baseline": "alphabetic", "font": "DejaVu Serif", "fontSize": 26, "color": "#000"},
          "encoding": {"x": {"field": "x", "type": "quantitative", "axis": null}, "y": {"field": "a", "type": "quantitative", "axis": null}, "text": {"field": "t"}}
        },
        {
          "data": {"name": "notes"}, "transform": [{"filter": "datum.p === 3 && datum.r === 'word'"}],
          "mark": {"type": "text", "align": "left", "baseline": "alphabetic", "font": "DejaVu Serif", "fontSize": 40},
          "encoding": {"x": {"field": "x", "type": "quantitative", "axis": null}, "y": {"field": "a", "type": "quantitative", "axis": null}, "text": {"field": "t"}, "color": {"field": "g", "type": "nominal", "legend": null}}
        },
        {
          "data": {"name": "notes"}, "transform": [{"filter": "datum.r === 'xt'"}],
          "mark": {"type": "text", "align": "left", "baseline": "alphabetic", "font": "DejaVu Serif", "fontSize": 40, "color": "#000"},
          "encoding": {"x": {"field": "x", "type": "quantitative", "axis": null}, "y": {"field": "a", "type": "quantitative", "axis": null}, "text": {"field": "t"}}
        },
        {
          "data": {"name": "notes"}, "transform": [{"filter": "datum.r === 'xti'"}],
          "mark": {"type": "text", "align": "left", "baseline": "alphabetic", "font": "DejaVu Serif", "fontStyle": "italic", "fontSize": 40, "color": "#000"},
          "encoding": {"x": {"field": "x", "type": "quantitative", "axis": null}, "y": {"field": "a", "type": "quantitative", "axis": null}, "text": {"field": "t"}}
        },
        {
          "data": {"name": "notes"}, "transform": [{"filter": "datum.r === 'xts'"}],
          "mark": {"type": "text", "align": "left", "baseline": "alphabetic", "font": "DejaVu Serif", "fontSize": 27, "color": "#000"},
          "encoding": {"x": {"field": "x", "type": "quantitative", "axis": null}, "y": {"field": "a", "type": "quantitative", "axis": null}, "text": {"field": "t"}}
        },
        {
          "data": {"name": "notes"}, "transform": [{"filter": "datum.r === 'xtu'"}],
          "mark": {"type": "text", "align": "left", "baseline": "alphabetic", "font": "DejaVu Serif", "fontSize": 20, "color": "#000"},
          "encoding": {"x": {"field": "x", "type": "quantitative", "axis": null}, "y": {"field": "a", "type": "quantitative", "axis": null}, "text": {"field": "t"}}
        }
      ]
    }
  ],
  "config": {
    "view": {"stroke": null},
    "axis": {
      "grid": false,
      "domainColor": "#000",
      "domainWidth": 1.6,
      "tickColor": "#000",
      "tickWidth": 1.5,
      "labelFont": "Liberation Serif",
      "labelFontSize": 39,
      "labelColor": "#000",
      "labelFlush": false,
      "labelOverlap": false
    }
  }
}
